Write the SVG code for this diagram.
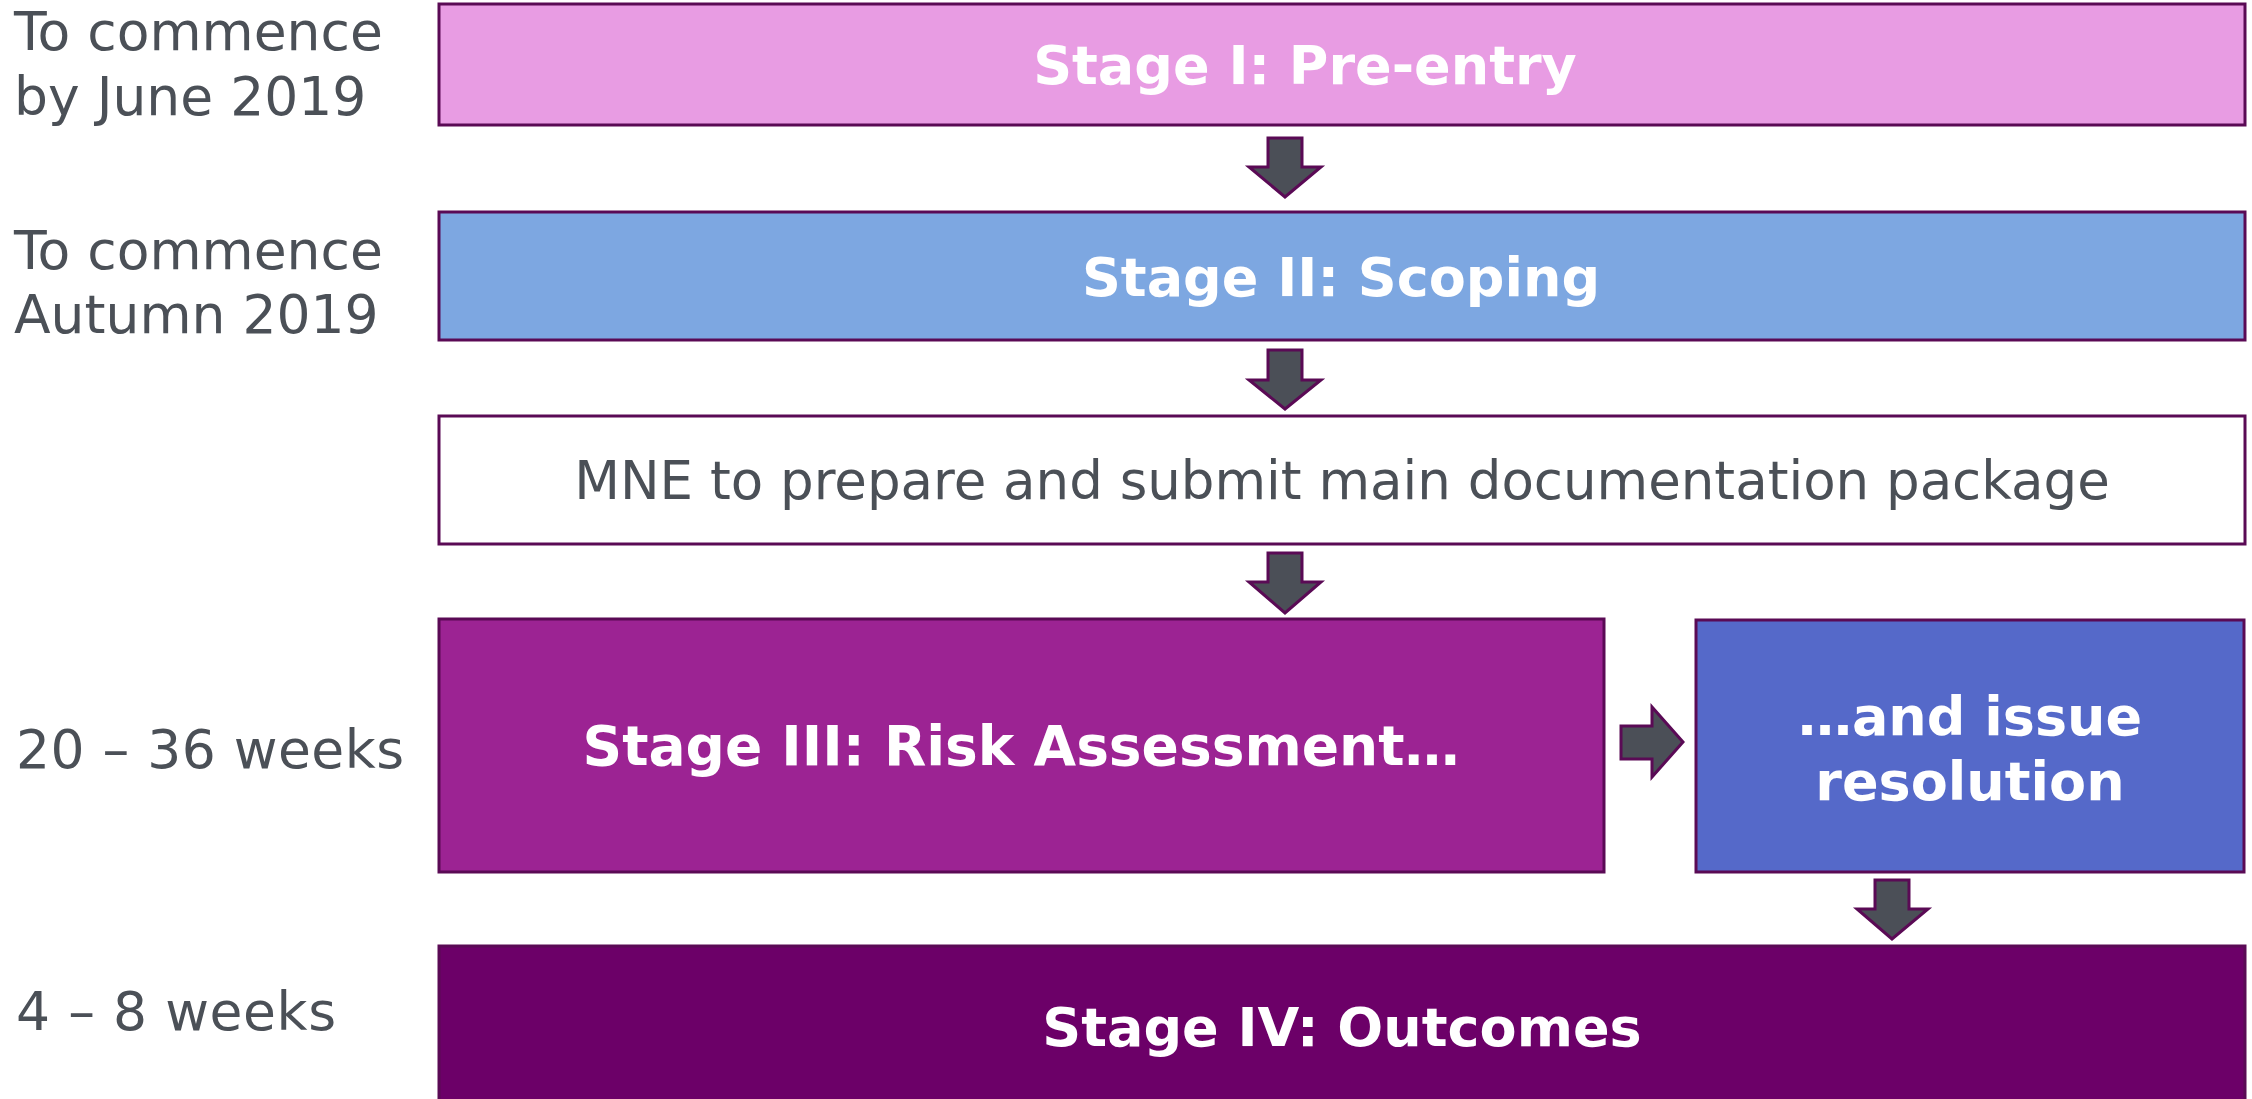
<svg xmlns="http://www.w3.org/2000/svg" width="2252" height="1099" viewBox="0 0 2252 1099">
<style>
.box{stroke:#5A0A55;stroke-width:3}
.lbl{font-family:"DejaVu Sans","Noto Sans",sans-serif;font-size:53.5px;fill:#4B5057}
.bt{font-family:"DejaVu Sans","Noto Sans",sans-serif;font-size:54px;font-weight:bold;fill:#FFFFFF;text-anchor:middle}
.rt{font-family:"DejaVu Sans","Noto Sans",sans-serif;font-size:53px;fill:#4B5057;text-anchor:middle}
.arr{fill:#4B4F57;stroke:#5A0A55;stroke-width:3;stroke-linejoin:miter}
</style>
<rect width="2252" height="1099" fill="#FFFFFF"/>
<g id="labels">
<text class="lbl" x="14" y="50">To commence</text>
<text class="lbl" x="14" y="115">by June 2019</text>
<text class="lbl" x="14" y="269">To commence</text>
<text class="lbl" x="14" y="333">Autumn 2019</text>
<text class="lbl" x="16" y="768" textLength="388" lengthAdjust="spacing">20 – 36 weeks</text>
<text class="lbl" x="16" y="1030" textLength="320" lengthAdjust="spacing">4 – 8 weeks</text>
</g>
<g id="stage1">
<rect class="box" x="439" y="4" width="1806" height="121" fill="#E89CE3"/>
<text class="bt" x="1305" y="84">Stage I: Pre-entry</text>
</g>
<g id="stage2">
<rect class="box" x="439" y="212" width="1806" height="128" fill="#7DA7E1"/>
<text class="bt" x="1341" y="296">Stage II: Scoping</text>
</g>
<g id="mne">
<rect class="box" x="439" y="416" width="1806" height="128" fill="#FFFFFF"/>
<text class="rt" x="1342" y="499">MNE to prepare and submit main documentation package</text>
</g>
<g id="stage3">
<rect class="box" x="439" y="619" width="1165" height="253" fill="#9C2393"/>
<text class="bt" x="1021" y="765" style="font-size:55px">Stage III: Risk Assessment…</text>
</g>
<g id="issue">
<rect class="box" x="1696" y="620" width="548" height="252" fill="#5569C9"/>
<text class="bt" x="1970" y="735">…and issue</text>
<text class="bt" x="1970" y="800">resolution</text>
</g>
<g id="stage4">
<rect class="box" x="439" y="946" width="1806" height="170" fill="#6C0068"/>
<text class="bt" x="1342" y="1046">Stage IV: Outcomes</text>
</g>
<g id="connectors">
<polygon class="arr" points="1268,138 1302,138 1302,167 1321,167 1285,197 1249,167 1268,167"/>
<polygon class="arr" points="1268,350 1302,350 1302,380 1321,380 1285,409 1249,380 1268,380"/>
<polygon class="arr" points="1268,553 1302,553 1302,582 1321,582 1285,613 1249,582 1268,582"/>
<polygon class="arr" points="1621,726 1652,726 1652,707 1683,742 1652,777 1652,759 1621,759"/>
<polygon class="arr" points="1875,880 1909,880 1909,909 1928,909 1892,939 1857,909 1875,909"/>
</g>
</svg>
